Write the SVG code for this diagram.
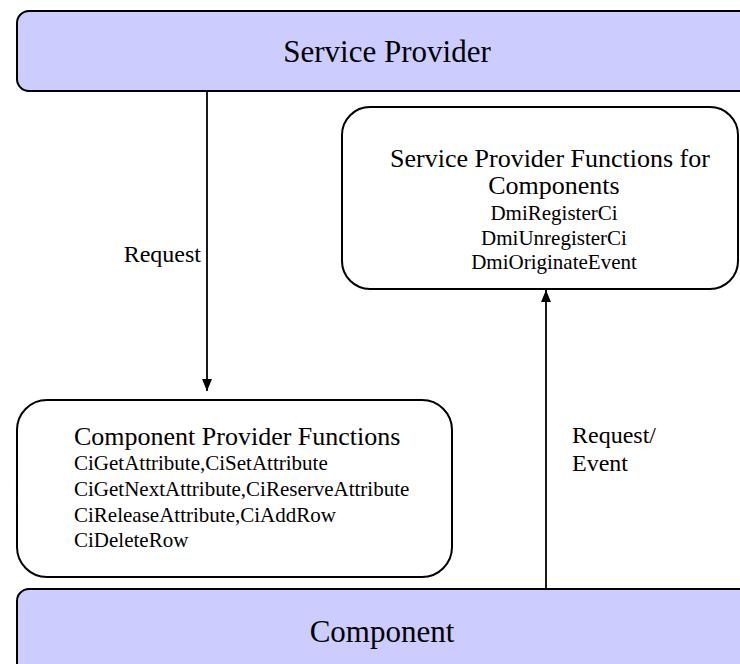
<svg xmlns="http://www.w3.org/2000/svg" width="740" height="664" viewBox="0 0 740 664">
<defs>
<style>
.band{fill:#CCCCFF;stroke:#000;stroke-width:2}
.box{fill:#FFFFFF;stroke:#000;stroke-width:2}
text{font-family:"Liberation Serif","Times New Roman",serif;fill:#000}
.big{font-size:31px}
.head{font-size:26px}
.small{font-size:21px}
.lbl{font-size:24px}
.conn{stroke:#000;stroke-width:1.8;fill:none}
</style>
<marker id="arr" viewBox="0 0 12 10" refX="12" refY="5" markerWidth="12" markerHeight="10" markerUnits="userSpaceOnUse" orient="auto">
<path d="M0,0 L12,5 L0,10 Z" fill="#000"/>
</marker>
</defs>
<rect width="740" height="664" fill="#FFFFFF"/>
<g id="service-provider">
<rect class="band" x="17" y="11" width="760" height="80" rx="12" ry="12"/>
<text class="big" x="387" y="62" text-anchor="middle">Service Provider</text>
</g>
<g id="sp-functions">
<rect class="box" x="342" y="107" width="396" height="182" rx="28" ry="28"/>
<text class="head" x="550" y="167" text-anchor="middle">Service Provider Functions for</text>
<text class="head" x="554" y="194" text-anchor="middle">Components</text>
<text class="small" x="554" y="220" text-anchor="middle">DmiRegisterCi</text>
<text class="small" x="554" y="245" text-anchor="middle">DmiUnregisterCi</text>
<text class="small" x="554" y="269" text-anchor="middle">DmiOriginateEvent</text>
</g>
<g id="cp-functions">
<rect class="box" x="17" y="400" width="435" height="177" rx="30" ry="30"/>
<text class="head" x="74" y="445">Component Provider Functions</text>
<text class="small" x="74" y="470">CiGetAttribute,CiSetAttribute</text>
<text class="small" x="74" y="496">CiGetNextAttribute,CiReserveAttribute</text>
<text class="small" x="74" y="522">CiReleaseAttribute,CiAddRow</text>
<text class="small" x="74" y="547">CiDeleteRow</text>
</g>
<g id="component">
<rect class="band" x="17" y="589" width="760" height="100" rx="12" ry="12"/>
<text class="big" x="382" y="642" text-anchor="middle">Component</text>
</g>
<g id="connectors">
<line class="conn" x1="207" y1="91" x2="207" y2="391" marker-end="url(#arr)"/>
<text class="lbl" x="201" y="262" text-anchor="end">Request</text>
<line class="conn" x1="546" y1="589" x2="546" y2="290" marker-end="url(#arr)"/>
<text class="lbl" x="572" y="443">Request/</text>
<text class="lbl" x="572" y="471">Event</text>
</g>
</svg>
